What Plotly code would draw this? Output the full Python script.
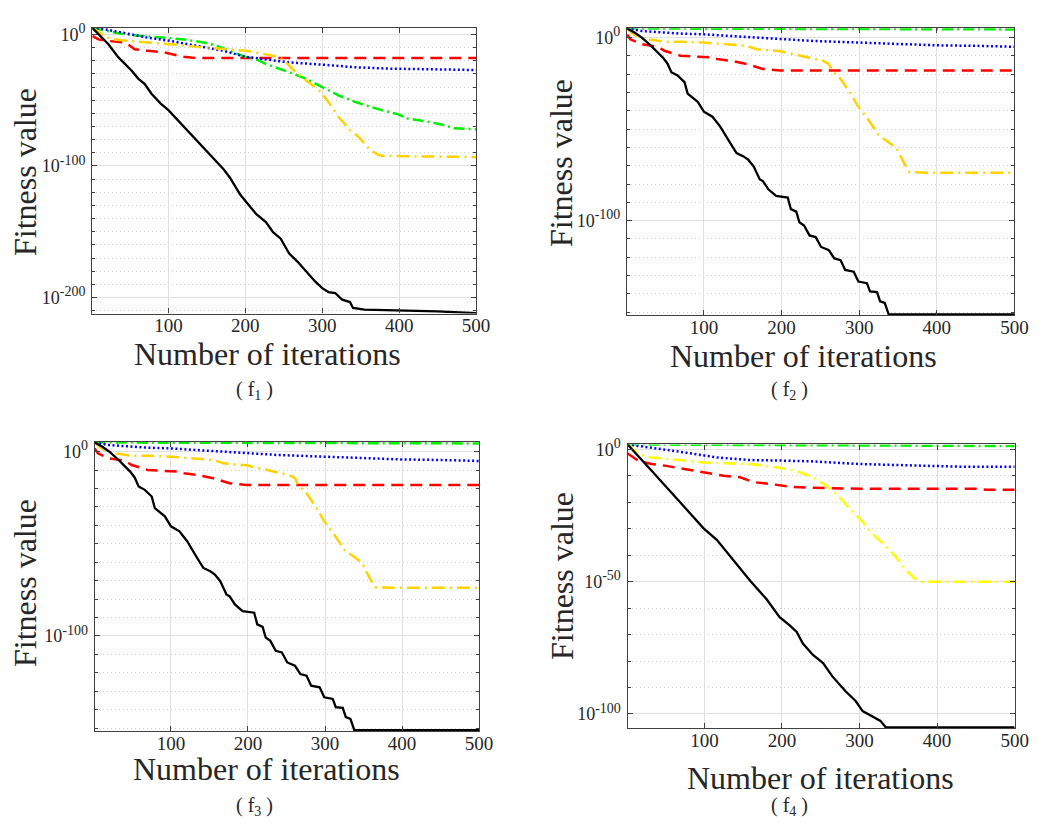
import plotly.graph_objects as go

W, H = 1057, 830
FONT = "Liberation Serif"

# ---------------- data: iteration number and log10(fitness value) ----------------
# (f1)
f1_black_it = [1, 9, 22, 35, 52, 61, 69, 78, 90, 100, 112, 125, 137, 155, 172, 180, 193, 202, 214, 227,
               236, 246, 257, 268, 279, 291, 300, 308, 317, 326, 336, 340, 355, 398, 450, 500]
f1_black_lg = [5.0, 0.0, -7.5, -17.5, -27.5, -33.8, -37.6, -45.1, -52.6, -57.6, -65.1, -72.6, -80.2, -91.5,
               -102.7, -109.0, -121.5, -128.0, -136.5, -142.9, -150.4, -155.3, -166.6, -172.9, -180.5,
               -188.0, -192.9, -195.9, -196.7, -201.7, -203.5, -208.0, -209.2, -209.8, -210.5, -212.0]
f1_red_it = [1, 9, 22, 44, 50, 56, 73, 95, 120, 137, 200, 300, 400, 500]
f1_red_lg = [-1.2, -3.8, -5.0, -6.2, -8.7, -11.3, -12.5, -13.8, -17.0, -18.0, -18.0, -18.0, -18.0, -18.0]
f1_yellow_it = [1, 14, 26, 52, 73, 103, 137, 180, 202, 214, 236, 249, 261, 279, 296, 308, 321, 338, 347,
                360, 372, 377, 407, 500]
f1_yellow_lg = [5.0, 0.0, -3.8, -5.0, -6.2, -7.5, -9.5, -11.3, -12.5, -13.8, -16.2, -18.8, -26.3, -35.0,
                -42.6, -51.4, -62.6, -73.9, -77.7, -86.5, -91.4, -92.2, -92.7, -93.2]
f1_green_it = [1, 31, 52, 95, 120, 146, 163, 180, 202, 214, 227, 257, 279, 300, 321, 343, 364, 377, 398,
               411, 437, 458, 471, 500]
f1_green_lg = [5.0, 1.3, -0.5, -2.5, -3.8, -6.2, -8.7, -12.5, -17.5, -18.8, -22.6, -28.8, -33.8, -40.1,
               -46.3, -51.4, -55.1, -57.6, -60.6, -63.9, -66.4, -68.9, -71.4, -72.2]
f1_blue_it = [1, 18, 52, 73, 103, 137, 172, 200, 214, 236, 257, 300, 343, 385, 428, 500]
f1_blue_lg = [5.0, 3.8, 0.0, -2.5, -5.0, -8.7, -12.5, -17.0, -18.0, -19.5, -21.3, -23.0, -25.0, -26.0,
              -26.5, -27.1]

# (f2)
f2_black_it = [1, 11, 20, 32, 47, 53, 58, 66, 75, 79, 92, 100, 111, 121, 134, 142, 151, 157, 164, 172,
               176, 183, 193, 208, 212, 219, 223, 229, 236, 244, 251, 261, 268, 276, 282, 293, 299, 310,
               314, 323, 327, 333, 338, 500]
f2_black_lg = [5.0, 2.7, 0.0, -4.5, -10.8, -14.1, -18.9, -20.7, -24.3, -30.6, -35.1, -40.5, -43.2, -48.6,
               -57.7, -63.1, -64.9, -66.7, -70.3, -77.5, -78.4, -82.9, -86.5, -87.4, -93.7, -95.1,
               -100.9, -102.7, -108.1, -109.0, -114.4, -116.2, -120.7, -121.6, -127.0, -127.9, -133.3,
               -134.2, -138.7, -139.1, -144.1, -145.0, -151.2, -151.2]
f2_red_it = [1, 5, 20, 41, 49, 70, 92, 108, 117, 134, 155, 176, 198, 300, 400, 500]
f2_red_lg = [1.8, -0.9, -3.6, -5.0, -7.2, -9.9, -10.4, -10.8, -11.7, -12.6, -14.4, -17.1, -18.0, -18.0,
             -18.0, -18.0]
f2_yellow_it = [1, 7, 15, 28, 49, 70, 100, 134, 155, 168, 185, 198, 215, 236, 253, 261, 265, 276, 289,
                299, 312, 325, 333, 344, 348, 355, 359, 365, 388, 500]
f2_yellow_lg = [5.0, 2.7, 0.4, -0.9, -2.2, -2.2, -2.7, -3.6, -4.5, -6.3, -6.8, -7.4, -9.0, -10.8, -12.6,
                -14.4, -18.0, -22.5, -30.6, -37.8, -45.0, -53.2, -55.9, -59.1, -60.4, -66.7, -69.4,
                -73.5, -73.9, -73.9]
f2_green_it = [1, 100, 200, 300, 400, 500]
f2_green_lg = [5.0, 4.9, 4.8, 4.7, 4.6, 4.5]
f2_blue_it = [1, 20, 70, 100, 134, 200, 240, 300, 350, 400, 452, 500]
f2_blue_lg = [5.0, 3.6, 2.2, 1.8, 0.9, -0.9, -1.8, -2.7, -3.6, -4.2, -4.5, -5.0]

# (f3) -- same convergence curves as (f2)
f3_black_it, f3_black_lg = f2_black_it, f2_black_lg
f3_red_it, f3_red_lg = f2_red_it, f2_red_lg
f3_yellow_it, f3_yellow_lg = f2_yellow_it, f2_yellow_lg
f3_green_it, f3_green_lg = f2_green_it, f2_green_lg
f3_blue_it, f3_blue_lg = f2_blue_it, f2_blue_lg

# (f4)
f4_black_it = [1, 15, 32, 53, 74, 99, 116, 138, 159, 180, 197, 210, 219, 227, 240, 253, 265, 282, 295,
               304, 316, 327, 334, 500]
f4_black_lg = [1.8, -2.5, -8.1, -14.9, -21.8, -29.9, -34.2, -42.3, -49.7, -56.6, -63.4, -66.5, -69.0,
               -73.4, -77.7, -80.8, -85.8, -91.4, -95.1, -98.9, -100.7, -102.6, -105.1, -105.1]
f4_red_it = [1, 15, 32, 49, 74, 99, 125, 146, 163, 184, 214, 240, 300, 450, 465, 500]
f4_red_lg = [-1.6, -4.4, -5.6, -6.2, -7.5, -8.7, -10.0, -10.6, -12.4, -13.1, -14.3, -14.6, -14.9, -14.9,
             -15.3, -15.3]
f4_yellow_it = [1, 15, 32, 53, 74, 99, 125, 159, 193, 218, 240, 257, 274, 287, 300, 316, 334, 346, 359,
                372, 380, 410, 500]
f4_yellow_lg = [1.8, -1.9, -3.1, -3.7, -4.4, -5.0, -5.3, -5.6, -6.8, -8.1, -10.6, -13.7, -18.0, -22.4,
                -26.1, -31.7, -36.7, -40.4, -45.4, -49.1, -50.1, -50.1, -50.1]
f4_green_it = [1, 250, 500]
f4_green_lg = [1.8, 1.5, 1.2]
f4_blue_it = [1, 32, 74, 116, 159, 200, 240, 300, 367, 431, 500]
f4_blue_lg = [1.8, 0.6, -1.2, -3.1, -4.1, -4.3, -4.6, -5.6, -6.2, -6.6, -6.6]

x_ticks = [100, 200, 300, 400, 500]
x_ticktext = ["100", "200", "300", "400", "500"]
f1_yticks = [0, -100, -200]
f2_yticks = [0, -100]
f3_yticks = [0, -100]
f4_yticks = [0, -50, -100]
captions = ["( f<sub>1</sub> )", "( f<sub>2</sub> )", "( f<sub>3</sub> )", "( f<sub>4</sub> )"]
x_title = "Number of iterations"
y_title = "Fitness value"

# ---------------- layout geometry (pixels) ----------------
panels = [
    dict(box=(93.5, 482.5, 20.0, 308.5), yr=(-212.2, 5.0), yt=f1_yticks, yellow="#FFD200",
         xt=(271, 349), yl=(26, 166), cap=(258, 386)),
    dict(box=(635.5, 1028.0, 20.5, 310.0), yr=(-151.6, 5.1), yt=f2_yticks, yellow="#FFD200",
         xt=(814, 351), yl=(569, 156), cap=(800, 386)),
    dict(box=(96.0, 485.5, 438.0, 730.0), yr=(-151.6, 5.4), yt=f3_yticks, yellow="#FFD200",
         xt=(270, 768), yl=(26, 581), cap=(258, 806)),
    dict(box=(636.0, 1028.3, 440.7, 727.3), yr=(-105.4, 1.8), yt=f4_yticks, yellow="#FFFF00",
         xt=(832, 777), yl=(570, 573), cap=(800, 806)),
]
series = [
    [(f1_red_it, f1_red_lg), (f1_green_it, f1_green_lg), (f1_blue_it, f1_blue_lg),
     (f1_yellow_it, f1_yellow_lg), (f1_black_it, f1_black_lg)],
    [(f2_red_it, f2_red_lg), (f2_green_it, f2_green_lg), (f2_blue_it, f2_blue_lg),
     (f2_yellow_it, f2_yellow_lg), (f2_black_it, f2_black_lg)],
    [(f3_red_it, f3_red_lg), (f3_green_it, f3_green_lg), (f3_blue_it, f3_blue_lg),
     (f3_yellow_it, f3_yellow_lg), (f3_black_it, f3_black_lg)],
    [(f4_red_it, f4_red_lg), (f4_green_it, f4_green_lg), (f4_blue_it, f4_blue_lg),
     (f4_yellow_it, f4_yellow_lg), (f4_black_it, f4_black_lg)],
]

AX = "#404040"
GRID = "#e0e0e0"
MINOR_GRID = "#cfcfcf"
TXT = "#262626"

fig = go.Figure()
layout = dict(width=W, height=H, margin=dict(l=0, r=0, t=0, b=0), showlegend=False,
              paper_bgcolor="white", plot_bgcolor="white",
              font=dict(family=FONT, color=TXT))
annotations = []

def px(x):
    return x / W

def py(y):
    return 1 - y / H

for i, (p, ser) in enumerate(zip(panels, series)):
    n = "" if i == 0 else str(i + 1)
    x0, x1, y0, y1 = p["box"]
    styles = [
        dict(color="#FF0000", width=2.5, dash="12px,7px"),
        dict(color="#00F000", width=2.5, dash="11px,4px,2px,4px"),
        dict(color="#0000FF", width=2.5, dash="2px,2.5px"),
        dict(color=p["yellow"], width=2.5, dash="13px,5px,2px,5px"),
        dict(color="#000000", width=2.3, dash="solid"),
    ]
    for (it, lg), st in zip(ser, styles):
        fig.add_trace(go.Scatter(x=it, y=[10.0 ** v for v in lg], mode="lines", line=st,
                                 xaxis="x" + n, yaxis="y" + n, hoverinfo="skip"))
    lo, hi = p["yr"]
    majors = p["yt"]
    minor_vals = [10.0 ** k for k in range(0, int(lo) - 1, -10)
                  if k not in majors and lo <= k <= hi]
    layout["xaxis" + n] = dict(
        domain=[px(x0), px(x1)], anchor="y" + n, range=[1, 500],
        tickvals=x_ticks, ticktext=x_ticktext, ticks="inside", ticklen=5, tickcolor=AX,
        showline=True, linecolor=AX, linewidth=1.3, mirror="allticks",
        showgrid=True, gridcolor=GRID, gridwidth=1, zeroline=False,
        tickfont=dict(family=FONT, size=19, color=TXT), ticklabelstandoff=-5,
    )
    layout["yaxis" + n] = dict(
        domain=[py(y1), py(y0)], anchor="x" + n, type="log", range=[lo, hi],
        tickvals=[10.0 ** k for k in majors],
        ticktext=["10<sup><span style='font-size:14px'>%d</span></sup>" % k for k in majors],
        ticks="inside", ticklen=5, tickcolor=AX,
        showline=True, linecolor=AX, linewidth=1.3, mirror="allticks",
        showgrid=True, gridcolor=GRID, gridwidth=1, zeroline=False,
        tickfont=dict(family=FONT, size=18, color=TXT), ticklabelstandoff=2,
        minor=dict(tickvals=minor_vals, ticks="inside", ticklen=3, tickcolor=AX,
                   showgrid=True, gridcolor=MINOR_GRID, griddash="1px,3px", gridwidth=1),
    )
    annotations.append(dict(text=x_title, x=px(p["xt"][0]), y=py(p["xt"][1]), xref="paper", yref="paper",
                            showarrow=False, xanchor="center", yanchor="middle",
                            font=dict(family=FONT, size=32, color=TXT)))
    annotations.append(dict(text=y_title, x=px(p["yl"][0]), y=py(p["yl"][1]), xref="paper", yref="paper",
                            showarrow=False, xanchor="center", yanchor="middle", textangle=-90,
                            font=dict(family=FONT, size=32, color=TXT)))
    annotations.append(dict(text=captions[i], x=px(p["cap"][0]), y=py(p["cap"][1]), xref="paper",
                            yref="paper", showarrow=False, xanchor="center", yanchor="middle",
                            font=dict(family=FONT, size=20, color=TXT)))

layout["annotations"] = annotations
fig.update_layout(**layout)
fig.write_html("out.html")
